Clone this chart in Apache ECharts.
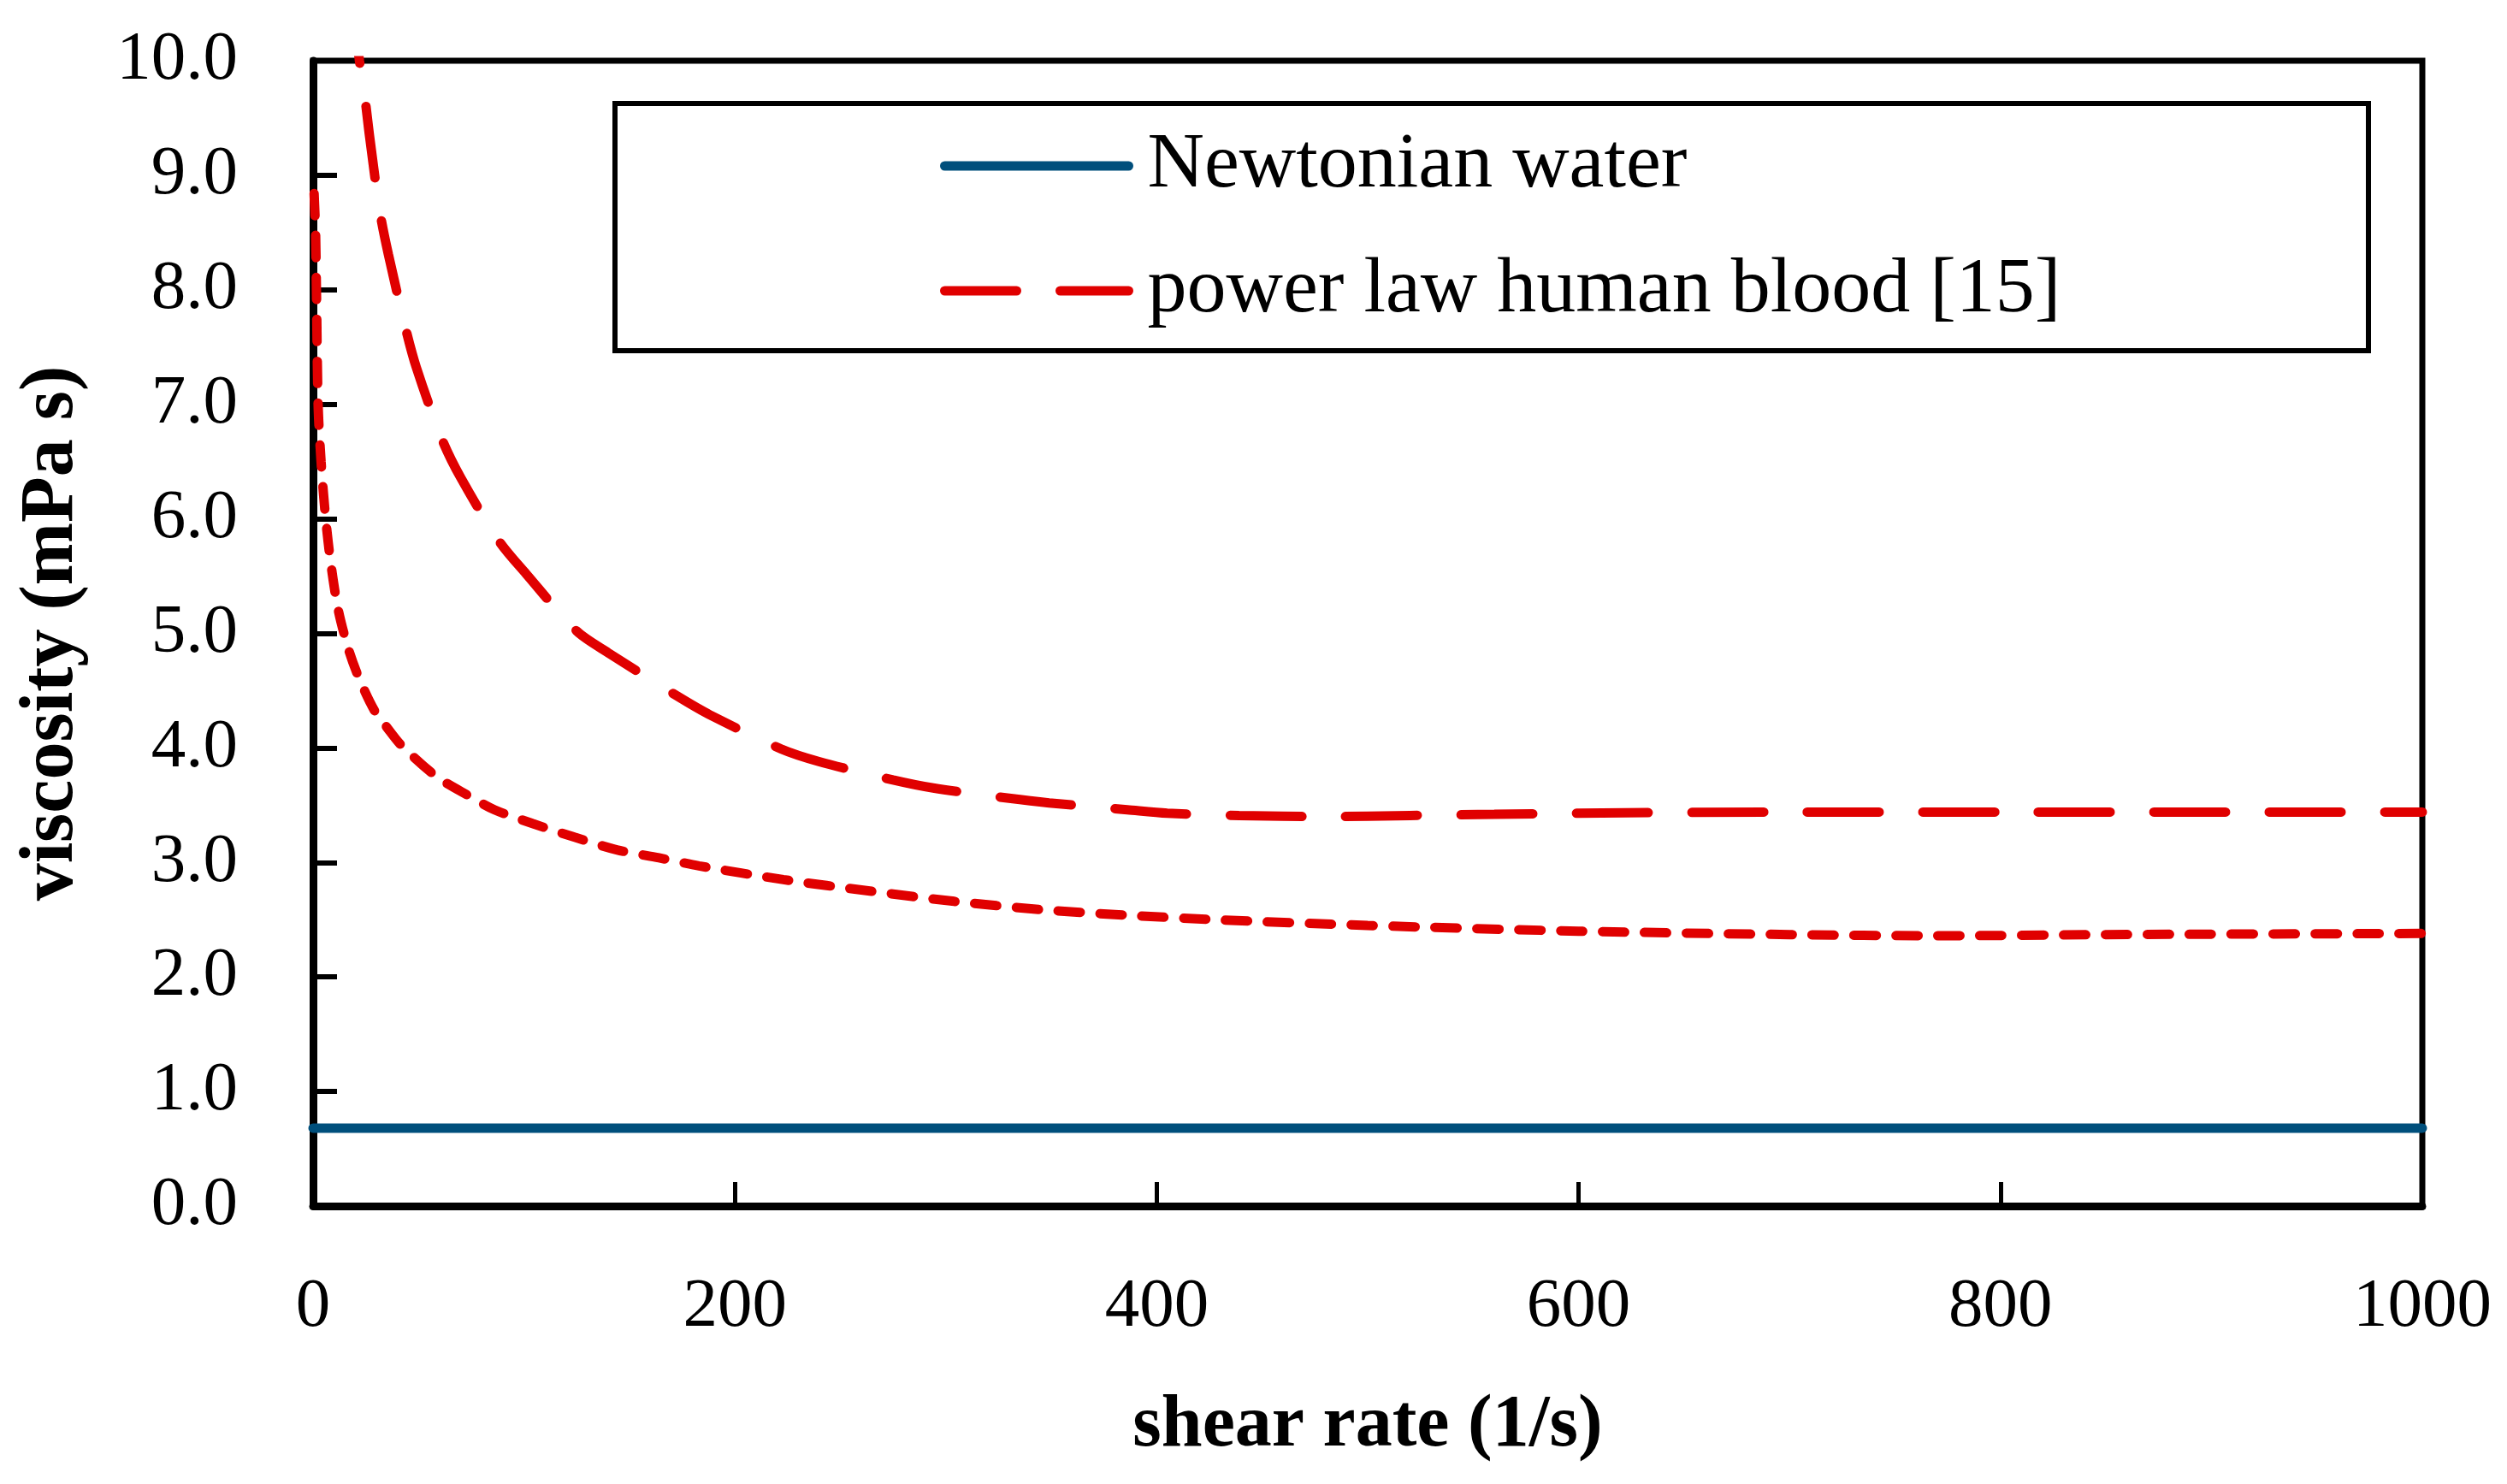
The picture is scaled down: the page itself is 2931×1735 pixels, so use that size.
<!DOCTYPE html>
<html>
<head>
<meta charset="utf-8">
<script src="https://cdn.jsdelivr.net/npm/echarts@6/dist/echarts.min.js"></script>
<style>html,body{margin:0;padding:0;background:#fff}#c{width:2931px;height:1735px}</style>
</head>
<body>
<div id="c"></div>
<script>
// ---- data ----
const seriesNames = ['Newtonian water', 'power law human blood [15]', 'power law (lower curve)'];
const xTickValues = [0, 200, 400, 600, 800, 1000];
const yTickValues = [0, 1, 2, 3, 4, 5, 6, 7, 8, 9, 10];

const waterX = [0, 1000];
const waterY = [0.68, 0.68];

const bloodX = [18, 22, 24.7, 26.8, 31.6, 35.7, 43.8, 49, 61, 70, 88, 101, 125, 140, 172, 188, 222, 240, 275, 294, 330, 349, 386, 405, 439, 480, 520, 560, 600, 700, 800, 900, 1000];
const bloodY = [10.6, 10.0, 9.66, 9.34, 8.69, 8.31, 7.67, 7.32, 6.70, 6.36, 5.81, 5.52, 5.02, 4.83, 4.46, 4.29, 3.99, 3.88, 3.72, 3.65, 3.56, 3.52, 3.46, 3.43, 3.41, 3.40, 3.41, 3.42, 3.43, 3.44, 3.44, 3.44, 3.44];

const lowerX = [0.5, 1.2, 1.6, 2.4, 3.8, 6, 8.5, 12, 17, 22, 29, 35, 42, 58.5, 74, 86, 104, 124, 144, 164, 183, 223, 264, 304, 344, 385, 428, 500, 600, 700, 770, 850, 1000];
const lowerY = [8.84, 8.50, 8.00, 7.00, 6.50, 6.00, 5.60, 5.20, 4.85, 4.60, 4.33, 4.18, 4.02, 3.75, 3.58, 3.46, 3.34, 3.22, 3.11, 3.04, 2.97, 2.85, 2.75, 2.66, 2.59, 2.54, 2.50, 2.45, 2.40, 2.37, 2.36, 2.37, 2.38];

const pairs = (xs, ys) => xs.map((x, i) => [x, ys[i]]);

const FONT = 'Liberation Serif';
const chart = echarts.init(document.getElementById('c'), null, {renderer: 'canvas'});
chart.setOption({
  animation: false,
  backgroundColor: '#ffffff',
  grid: {
    left: 366, right: 99, top: 71, bottom: 325,
    show: true, borderColor: '#000', borderWidth: 7, backgroundColor: 'transparent'
  },
  graphic: [{
    type: 'rect', left: 716, top: 118, z: 50, silent: true,
    shape: {width: 2050, height: 289},
    style: {fill: '#fff', stroke: '#000', lineWidth: 6}
  }],
  legend: {
    data: [seriesNames[0], seriesNames[1]],
    orient: 'vertical',
    left: 1099, top: 148, padding: 0,
    itemWidth: 215, itemHeight: 30, itemGap: 54,
    z: 60,
    itemStyle: {opacity: 0, borderWidth: 0},
    lineStyle: {width: 11, cap: 'round', opacity: 1},
    textStyle: {fontFamily: FONT, fontSize: 92, color: '#000', lineHeight: 92, padding: [0, 0, 0, 17]},
    selectedMode: false
  },
  xAxis: {
    type: 'value', min: 0, max: 1000, interval: 200,
    name: 'shear rate (1/s)', nameLocation: 'middle', nameGap: 215,
    nameTextStyle: {fontFamily: FONT, fontSize: 86, fontWeight: 'bold', color: '#000'},
    axisLine: {show: true, onZero: false, lineStyle: {color: '#000', width: 9}},
    axisTick: {show: true, inside: true, length: 28, lineStyle: {color: '#000', width: 5}},
    axisLabel: {fontFamily: FONT, fontSize: 81, color: '#000', margin: 78,
      formatter: v => xTickValues.includes(v) ? String(v) : ''},
    splitLine: {show: false}
  },
  yAxis: {
    type: 'value', min: 0, max: 10, interval: 1,
    name: 'viscosity (mPa s)', nameLocation: 'middle', nameGap: 261,
    nameTextStyle: {fontFamily: FONT, fontSize: 88, fontWeight: 'bold', color: '#000'},
    axisLine: {show: true, onZero: false, lineStyle: {color: '#000', width: 9}},
    axisTick: {show: true, inside: true, length: 28, lineStyle: {color: '#000', width: 6}},
    axisLabel: {fontFamily: FONT, fontSize: 81, color: '#000', margin: 88,
      formatter: v => yTickValues.includes(v) ? v.toFixed(1) : ''},
    splitLine: {show: false}
  },
  series: [
    {
      name: seriesNames[0], type: 'line', symbol: 'none', z: 3,
      data: pairs(waterX, waterY),
      itemStyle: {color: '#004F7C'},
      lineStyle: {color: '#004F7C', width: 11, cap: 'round'}
    },
    {
      name: seriesNames[1], type: 'line', symbol: 'none', smooth: 0.3, z: 3,
      data: pairs(bloodX, bloodY),
      itemStyle: {color: '#E00000'},
      lineStyle: {color: '#E00000', width: 11, type: [84, 51], cap: 'round'}
    },
    {
      name: seriesNames[2], type: 'line', symbol: 'none', smooth: 0.3, z: 3,
      data: pairs(lowerX, lowerY),
      itemStyle: {color: '#E00000'},
      lineStyle: {color: '#E00000', width: 11, type: [26, 23], cap: 'round'}
    }
  ]
});
</script>
</body>
</html>
